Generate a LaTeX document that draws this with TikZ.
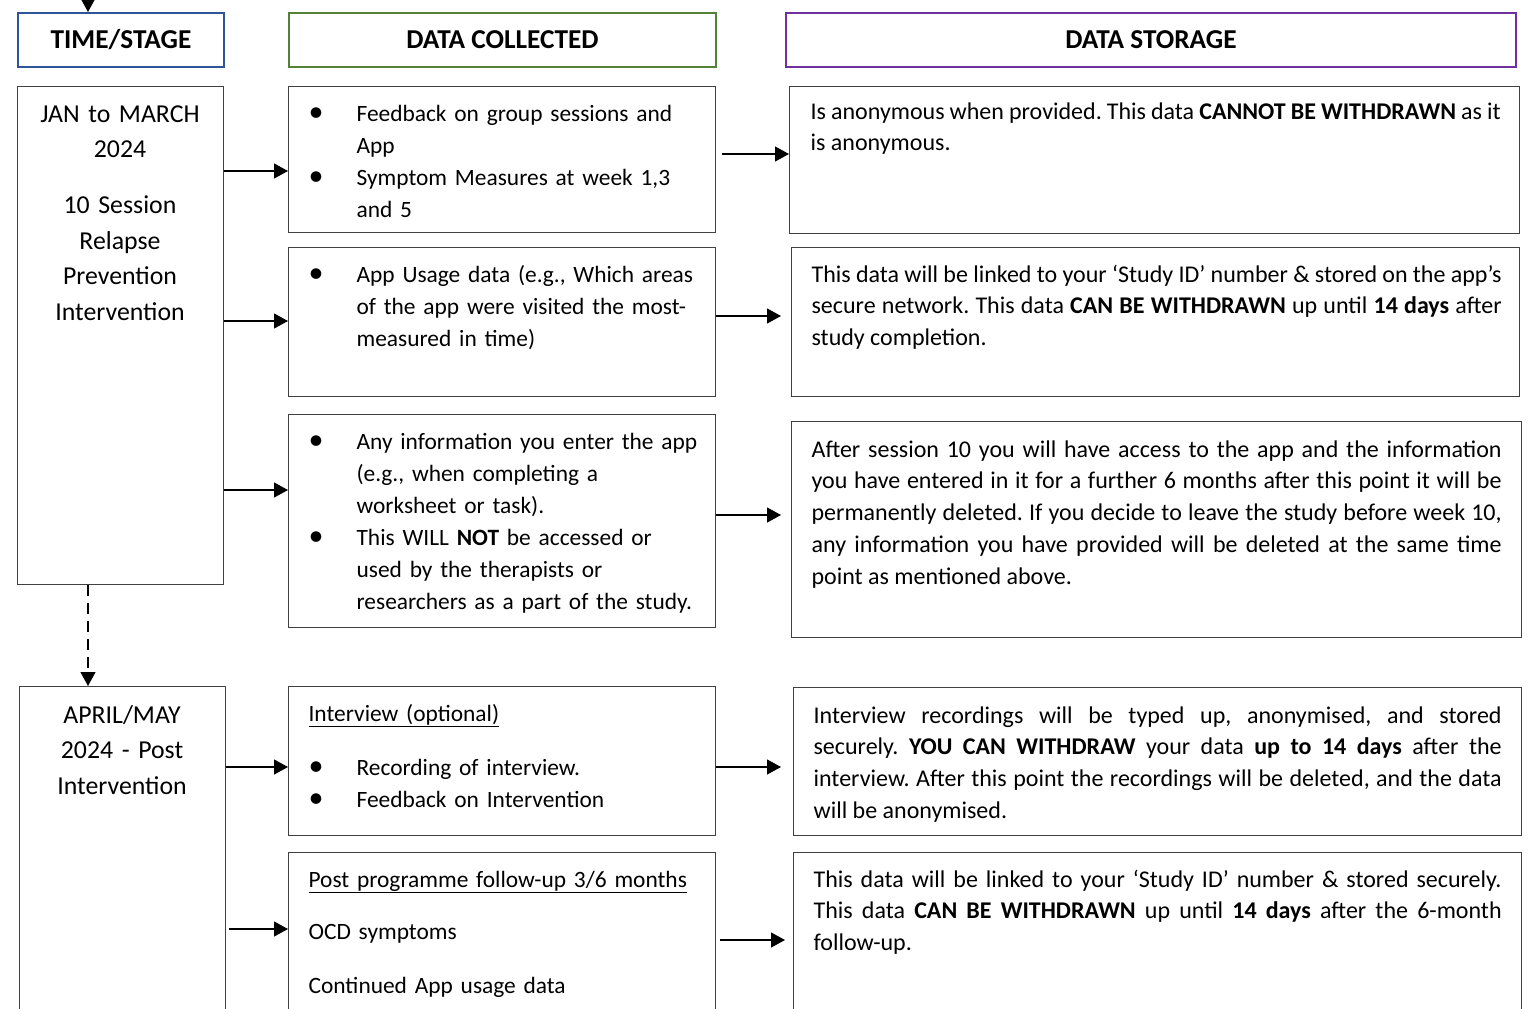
\documentclass[tikz,border=0pt]{standalone}
\usepackage{fontspec}
\setmainfont{Carlito}
\usetikzlibrary{arrows.meta,calc}
\frenchspacing

\newcommand{\bulletmark}{{\fontsize{30}{30}\selectfont\textbullet}}
\newcommand{\bitem}{\hangindent=48pt\hangafter=1\makebox[48pt][l]{\bulletmark}}

\begin{document}
\begin{tikzpicture}[x=1pt,y=-1pt,line width=1.2pt]
  \definecolor{headblue}{RGB}{47,85,151}
  \definecolor{headgreen}{RGB}{84,130,53}
  \definecolor{headpurple}{RGB}{112,48,160}
  \definecolor{boxgrey}{RGB}{64,64,64}
  \tikzset{
    box/.style={draw=boxgrey,rectangle,anchor=north west,inner sep=0pt},
    head/.style={box,line width=2pt,minimum height=54pt,font=\fontsize{27.3}{27.3}\selectfont\bfseries},
    stagetxt/.style={anchor=base,align=center,text width=200pt,inner sep=0pt,font=\fontsize{25.8}{35.5}\selectfont},
    colltxt/.style={anchor=base west,text width=400pt,inner sep=0pt,align=left,font=\fontsize{23.4}{32}\selectfont},
    storetxt/.style={anchor=base west,text width=690pt,inner sep=0pt,align=justify,font=\fontsize{24}{31.8}\selectfont},
    arr/.style={-{Triangle[length=14pt,width=15pt]},line width=1.2pt}
  }
  \useasboundingbox (0,0) rectangle (1535,1009);
  \clip (0,0) rectangle (1535,1009);

  % headers
  \node[head,draw=headblue,minimum width=206pt] (h1) at (17,12) {TIME/STAGE};
  \node[head,draw=headgreen,minimum width=427pt] (h2) at (288,12) {DATA COLLECTED};
  \node[head,draw=headpurple,minimum width=730pt] (h3) at (785,12) {DATA STORAGE};

  % stages
  \node[box,minimum width=206pt,minimum height=498pt] (t1) at (17,86) {};
  \node[box,minimum width=206pt,minimum height=340pt] (t2) at (19,686) {};
  \node[stagetxt] (t1txt) at (120,122) {JAN to MARCH\\2024\\[20.5pt]10 Session\\Relapse\\Prevention\\Intervention};
  \node[stagetxt] (t2txt) at (122,723) {APRIL/MAY\\2024 - Post\\Intervention};

  % data collected
  \node[box,minimum width=427pt,minimum height=146pt] (c1) at (288,86) {};
  \node[box,minimum width=427pt,minimum height=149pt] (c2) at (288,247) {};
  \node[box,minimum width=427pt,minimum height=213pt] (c3) at (288,414) {};
  \node[box,minimum width=427pt,minimum height=149pt] (c4) at (288,686) {};
  \node[box,minimum width=427pt,minimum height=180pt] (c5) at (288,852) {};
  \node[colltxt] (c1txt) at (308,121) {\bitem Feedback on group sessions and\newline App\par
    \bitem Symptom Measures at week 1,3\newline and 5\par};
  \node[colltxt] (c2txt) at (308,282) {\bitem App Usage data (e.g., Which areas\newline of the app were visited the most-\newline measured in time)\par};
  \node[colltxt] (c3txt) at (308,449) {\bitem Any information you enter the app\newline (e.g., when completing a\newline worksheet or task).\par
    \bitem This WILL \textbf{NOT} be accessed or\newline used by the therapists or\newline researchers as a part of the study.\par};
  \node[colltxt] (c4txt) at (308,721) {\underline{Interview (optional)}\par\vspace{22pt}
    \bitem Recording of interview.\par\bitem Feedback on Intervention\par};
  \node[colltxt] (c5txt) at (308,887) {\underline{Post programme follow-up 3/6 months}\par\vspace{20pt}
    OCD symptoms\par\vspace{22pt}Continued App usage data};

  % data storage
  \node[box,minimum width=730pt,minimum height=147pt] (s1) at (789,86) {};
  \node[box,minimum width=728pt,minimum height=149pt] (s2) at (791,247) {};
  \node[box,minimum width=730pt,minimum height=216pt] (s3) at (791,421) {};
  \node[box,minimum width=728pt,minimum height=148pt] (s4) at (793,687) {};
  \node[box,minimum width=728pt,minimum height=180pt] (s5) at (793,852) {};
  \node[storetxt] (s1txt) at (810,119) {Is anonymous when provided. This data \textbf{CANNOT BE WITHDRAWN} as it\linebreak is anonymous.};
  \node[storetxt] (s2txt) at (811,282) {This data will be linked to your ‘Study ID’ number \& stored on the app’s\linebreak
    secure network. This data \textbf{CAN BE WITHDRAWN} up until \textbf{14 days} after\linebreak study completion.};
  \node[storetxt] (s3txt) at (811,457) {After session 10 you will have access to the app and the information\linebreak
    you have entered in it for a further 6 months after this point it will be\linebreak
    permanently deleted. If you decide to leave the study before week 10,\linebreak
    any information you have provided will be deleted at the same time\linebreak
    point as mentioned above.};
  \node[storetxt,text width=688pt] (s4txt) at (813,723) {Interview recordings will be typed up, anonymised, and stored\linebreak
    securely. \textbf{YOU CAN WITHDRAW} your data \textbf{up to 14 days} after the\linebreak
    interview. After this point the recordings will be deleted, and the data\linebreak
    will be anonymised.};
  \node[storetxt,text width=688pt] (s5txt) at (813,887) {This data will be linked to your ‘Study ID’ number \& stored securely.\linebreak
    This data \textbf{CAN BE WITHDRAWN} up until \textbf{14 days} after the 6-month\linebreak follow-up.};

  % connectors
  \coordinate (top) at (88,0);
  \draw[arr] (top) -- (top |- h1.north);
  \draw[arr,dash pattern=on 11pt off 7pt] (top |- t1.south) -- (top |- t2.north);
  \draw[arr] (t1.east |- 0,171) -- (c1.west |- 0,171);
  \draw[arr] (t1.east |- 0,321) -- (c2.west |- 0,321);
  \draw[arr] (t1.east |- 0,490) -- (c3.west |- 0,490);
  \draw[arr] (t2.east |- 0,767) -- (c4.west |- 0,767);
  \draw[arr] ([xshift=3pt]t2.east |- 0,929) -- (c5.west |- 0,929);
  \draw[arr] ([xshift=6pt]c1.east |- 0,154) -- (s1.west |- 0,154);
  \draw[arr] (c2.east |- 0,316) -- ([xshift=-10pt]s2.west |- 0,316);
  \draw[arr] (c3.east |- 0,515) -- ([xshift=-10pt]s3.west |- 0,515);
  \draw[arr] (c4.east |- 0,767) -- ([xshift=-12pt]s4.west |- 0,767);
  \draw[arr] ([xshift=4pt]c5.east |- 0,940) -- ([xshift=-8pt]s5.west |- 0,940);
\end{tikzpicture}
\end{document}
